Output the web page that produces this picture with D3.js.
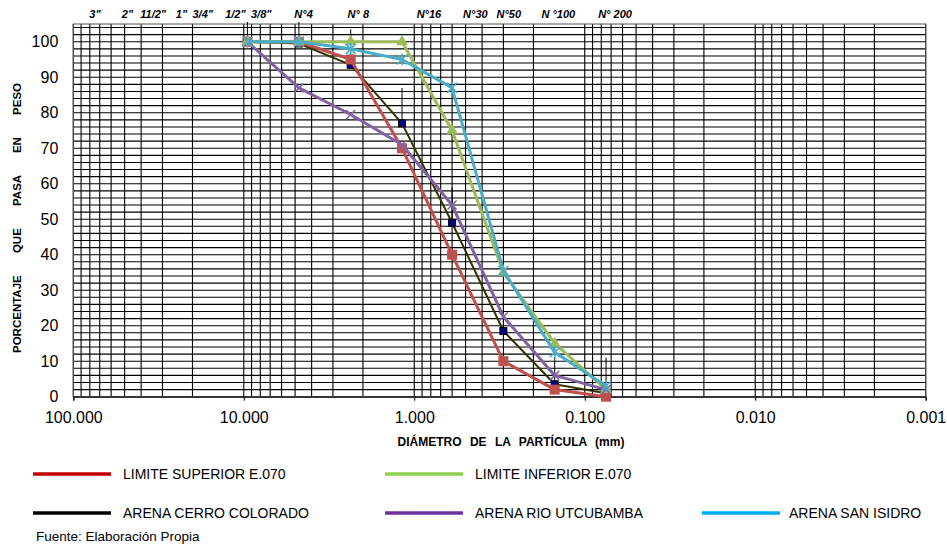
<!doctype html>
<html>
<head>
<meta charset="utf-8">
<title>Curva granulometrica</title>
<script src="https://cdn.jsdelivr.net/npm/d3@7"></script>
<style>
    html, body { margin: 0; padding: 0; background: #fff; }
    svg { display: block; font-family: "Liberation Sans", Arial, sans-serif; }
</style>
</head>
<body>
<svg id="chart" width="947" height="548"></svg>
<script>
// sieve openings (mm)
var sieves = [9.525, 4.75, 2.36, 1.18, 0.6, 0.3, 0.15, 0.075];

// % passing
var limiteSuperior = [100, 100, 95, 70, 40, 10, 2, 0];
var limiteInferior = [100, 100, 100, 100, 75, 35, 15, 2];
var cerroColorado  = [100, 99.5, 93.5, 77, 49, 18.5, 3.5, 1];
var rioUtcubamba   = [100, 87, 79.5, 71, 54, 22.5, 6, 2];
var sanIsidro      = [100, 100, 98, 95, 87, 35.5, 12.5, 3];
var cerroErrorPlus = 10;

// sieve names along the top and the diameter each one sits over
var topLabels   = ['3"', '2"', '11/2"', '1"', '3/4"', '1/2"', '3/8"', 'N°4', 'N° 8', 'N°16', 'N°30', 'N°50', 'N °100', 'N° 200'];
var topLabelAt  = [74.6, 48.1, 34.0, 23.2, 17.4, 11.2, 7.9, 4.46, 2.13, 0.82, 0.438, 0.279, 0.143, 0.0664];

var xTickValues = [100, 10, 1, 0.1, 0.01, 0.001];
var yTickValues = [0, 10, 20, 30, 40, 50, 60, 70, 80, 90, 100];

var svg = d3.select('#chart');
var width = 947, height = 548;
var plot = {left: 73.3, right: 925.7, top: 24, bottom: 396.7};

var xScale = d3.scaleLog().domain([100, 0.001]).range([plot.left, plot.right]);
var yScale = d3.scaleLinear().domain([0, 105]).range([plot.bottom, plot.top]);

svg.append('rect').attr('width', width).attr('height', height).attr('fill', '#fff');

svg.append('defs').append('clipPath').attr('id', 'clip')
    .append('rect')
    .attr('x', plot.left).attr('y', plot.top - 2)
    .attr('width', plot.right - plot.left).attr('height', plot.bottom - plot.top + 2);

// grid
var grid = svg.append('g');
grid.selectAll('line.v')
    .data(xScale.ticks())
    .enter().append('line')
    .attr('class', 'v')
    .attr('x1', function(d) { return xScale(d); })
    .attr('x2', function(d) { return xScale(d); })
    .attr('y1', plot.top).attr('y2', plot.bottom)
    .attr('stroke', '#000').attr('stroke-width', 1.1);

grid.selectAll('line.h')
    .data(d3.range(0, 105, 2))
    .enter().append('line')
    .attr('class', 'h')
    .attr('x1', plot.left).attr('x2', plot.right)
    .attr('y1', function(d) { return yScale(d); })
    .attr('y2', function(d) { return yScale(d); })
    .attr('stroke', '#000').attr('stroke-width', 1.1);

grid.append('rect')
    .attr('x', plot.left).attr('y', plot.top)
    .attr('width', plot.right - plot.left).attr('height', plot.bottom - plot.top)
    .attr('fill', 'none').attr('stroke', '#555').attr('stroke-width', 1);

// axes
var xAxis = d3.axisBottom(xScale)
    .tickValues(xTickValues)
    .tickFormat(d3.format('.3f'))
    .tickSize(4);
var xAxisGroup = svg.append('g')
    .attr('transform', 'translate(0,' + plot.bottom + ')')
    .call(xAxis);
xAxisGroup.select('.domain').attr('stroke', '#000');
xAxisGroup.selectAll('text')
    .attr('y', 15)
    .attr('font-size', 16).attr('font-family', '"Liberation Sans", Arial, sans-serif').attr('fill', '#000');

var yAxis = d3.axisLeft(yScale)
    .tickValues(yTickValues)
    .tickSize(0)
    .tickPadding(15);
var yAxisGroup = svg.append('g')
    .attr('transform', 'translate(' + plot.left + ',0)')
    .call(yAxis);
yAxisGroup.select('.domain').remove();
yAxisGroup.selectAll('text')
    .attr('font-size', 16).attr('font-family', '"Liberation Sans", Arial, sans-serif').attr('fill', '#000');

// sieve names on top
svg.append('g').selectAll('text')
    .data(topLabels)
    .enter().append('text')
    .attr('x', function(d, i) { return xScale(topLabelAt[i]); })
    .attr('y', 18)
    .attr('text-anchor', 'middle')
    .attr('font-size', 11).attr('font-weight', 'bold').attr('font-style', 'italic')
    .text(function(d) { return d; });

// titles
svg.append('text')
    .attr('x', 511).attr('y', 445.5)
    .attr('text-anchor', 'middle')
    .attr('font-size', 12).attr('font-weight', 'bold')
    .attr('word-spacing', 5)
    .text('DIÁMETRO DE LA PARTÍCULA (mm)');

svg.append('text')
    .attr('transform', 'translate(21,218) rotate(-90)')
    .attr('text-anchor', 'middle')
    .attr('font-size', 11.5).attr('font-weight', 'bold')
    .attr('word-spacing', 19)
    .text('PORCENTAJE QUE PASA EN PESO');

// series
var series = [
    {name: 'ARENA CERRO COLORADO', values: cerroColorado, color: '#333300', width: 2, marker: 'smallSquare', errorBars: true},
    {name: 'LIMITE SUPERIOR E.070', values: limiteSuperior, color: '#C0504D', width: 3, marker: 'square'},
    {name: 'LIMITE INFERIOR E.070', values: limiteInferior, color: '#9BBB59', width: 3, marker: 'triangle'},
    {name: 'ARENA RIO UTCUBAMBA', values: rioUtcubamba, color: '#8064A2', width: 3, marker: 'cross'},
    {name: 'ARENA SAN ISIDRO', values: sanIsidro, color: '#4BACC6', width: 3, marker: 'star'}
];

var line = d3.line()
    .x(function(d) { return xScale(d[0]); })
    .y(function(d) { return yScale(d[1]); });

var seriesLayer = svg.append('g');

series.forEach(function(s) {
    var pts = sieves.map(function(d, i) { return [d, s.values[i]]; });
    var g = seriesLayer.append('g');

    if (s.errorBars) {
        g.append('g').attr('clip-path', 'url(#clip)')
            .selectAll('line')
            .data(pts)
            .enter().append('line')
            .attr('x1', function(d) { return xScale(d[0]); })
            .attr('x2', function(d) { return xScale(d[0]); })
            .attr('y1', function(d) { return yScale(d[1]); })
            .attr('y2', function(d) { return yScale(d[1] + cerroErrorPlus); })
            .attr('stroke', '#000').attr('stroke-width', 1);
    }

    g.append('path')
        .datum(pts)
        .attr('d', line)
        .attr('fill', 'none')
        .attr('stroke', s.color)
        .attr('stroke-width', s.width)
        .attr('stroke-linejoin', 'round');

    var m = g.selectAll('.m')
        .data(pts)
        .enter().append('g')
        .attr('transform', function(d) { return 'translate(' + xScale(d[0]) + ',' + yScale(d[1]) + ')'; });

    if (s.marker === 'square') {
        m.append('rect').attr('x', -5).attr('y', -5).attr('width', 10).attr('height', 10).attr('fill', s.color);
    } else if (s.marker === 'smallSquare') {
        m.append('rect').attr('x', -3.5).attr('y', -3.5).attr('width', 7).attr('height', 7)
            .attr('fill', '#000080').attr('stroke', '#000').attr('stroke-width', 1);
    } else if (s.marker === 'triangle') {
        m.append('path').attr('d', d3.symbol(d3.symbolTriangle, 60)).attr('fill', s.color);
    } else if (s.marker === 'cross') {
        m.append('path').attr('d', 'M-4.5,-4.5L4.5,4.5M-4.5,4.5L4.5,-4.5').attr('stroke', s.color).attr('stroke-width', 1.5);
    } else if (s.marker === 'star') {
        m.append('path').attr('d', 'M-5,-5L5,5M-5,5L5,-5M0,-6L0,6').attr('stroke', s.color).attr('stroke-width', 1.5);
    }
});

// legend
var legendItems = [
    {name: 'LIMITE SUPERIOR E.070', color: '#C00000', col: 0, row: 0},
    {name: 'LIMITE INFERIOR E.070', color: '#92D050', col: 1, row: 0},
    {name: 'ARENA CERRO COLORADO', color: '#000000', col: 0, row: 1},
    {name: 'ARENA RIO UTCUBAMBA', color: '#7030A0', col: 1, row: 1},
    {name: 'ARENA SAN ISIDRO', color: '#00B0F0', col: 2, row: 1}
];
var legendColX = [33, 385, 702];
var legendRowY = [474, 513];

var legend = svg.append('g').selectAll('g')
    .data(legendItems)
    .enter().append('g')
    .attr('transform', function(d) { return 'translate(' + legendColX[d.col] + ',' + legendRowY[d.row] + ')'; });
legend.append('line')
    .attr('x1', 0).attr('x2', 78)
    .attr('stroke', function(d) { return d.color; })
    .attr('stroke-width', 3.5);
legend.append('text')
    .attr('x', function(d) { return d.col === 2 ? 87 : 90; })
    .attr('y', 5)
    .attr('font-size', 14)
    .text(function(d) { return d.name; });

svg.append('text')
    .attr('x', 36).attr('y', 541)
    .attr('font-size', 13.5)
    .text('Fuente: Elaboración Propia');
</script>
</body>
</html>
